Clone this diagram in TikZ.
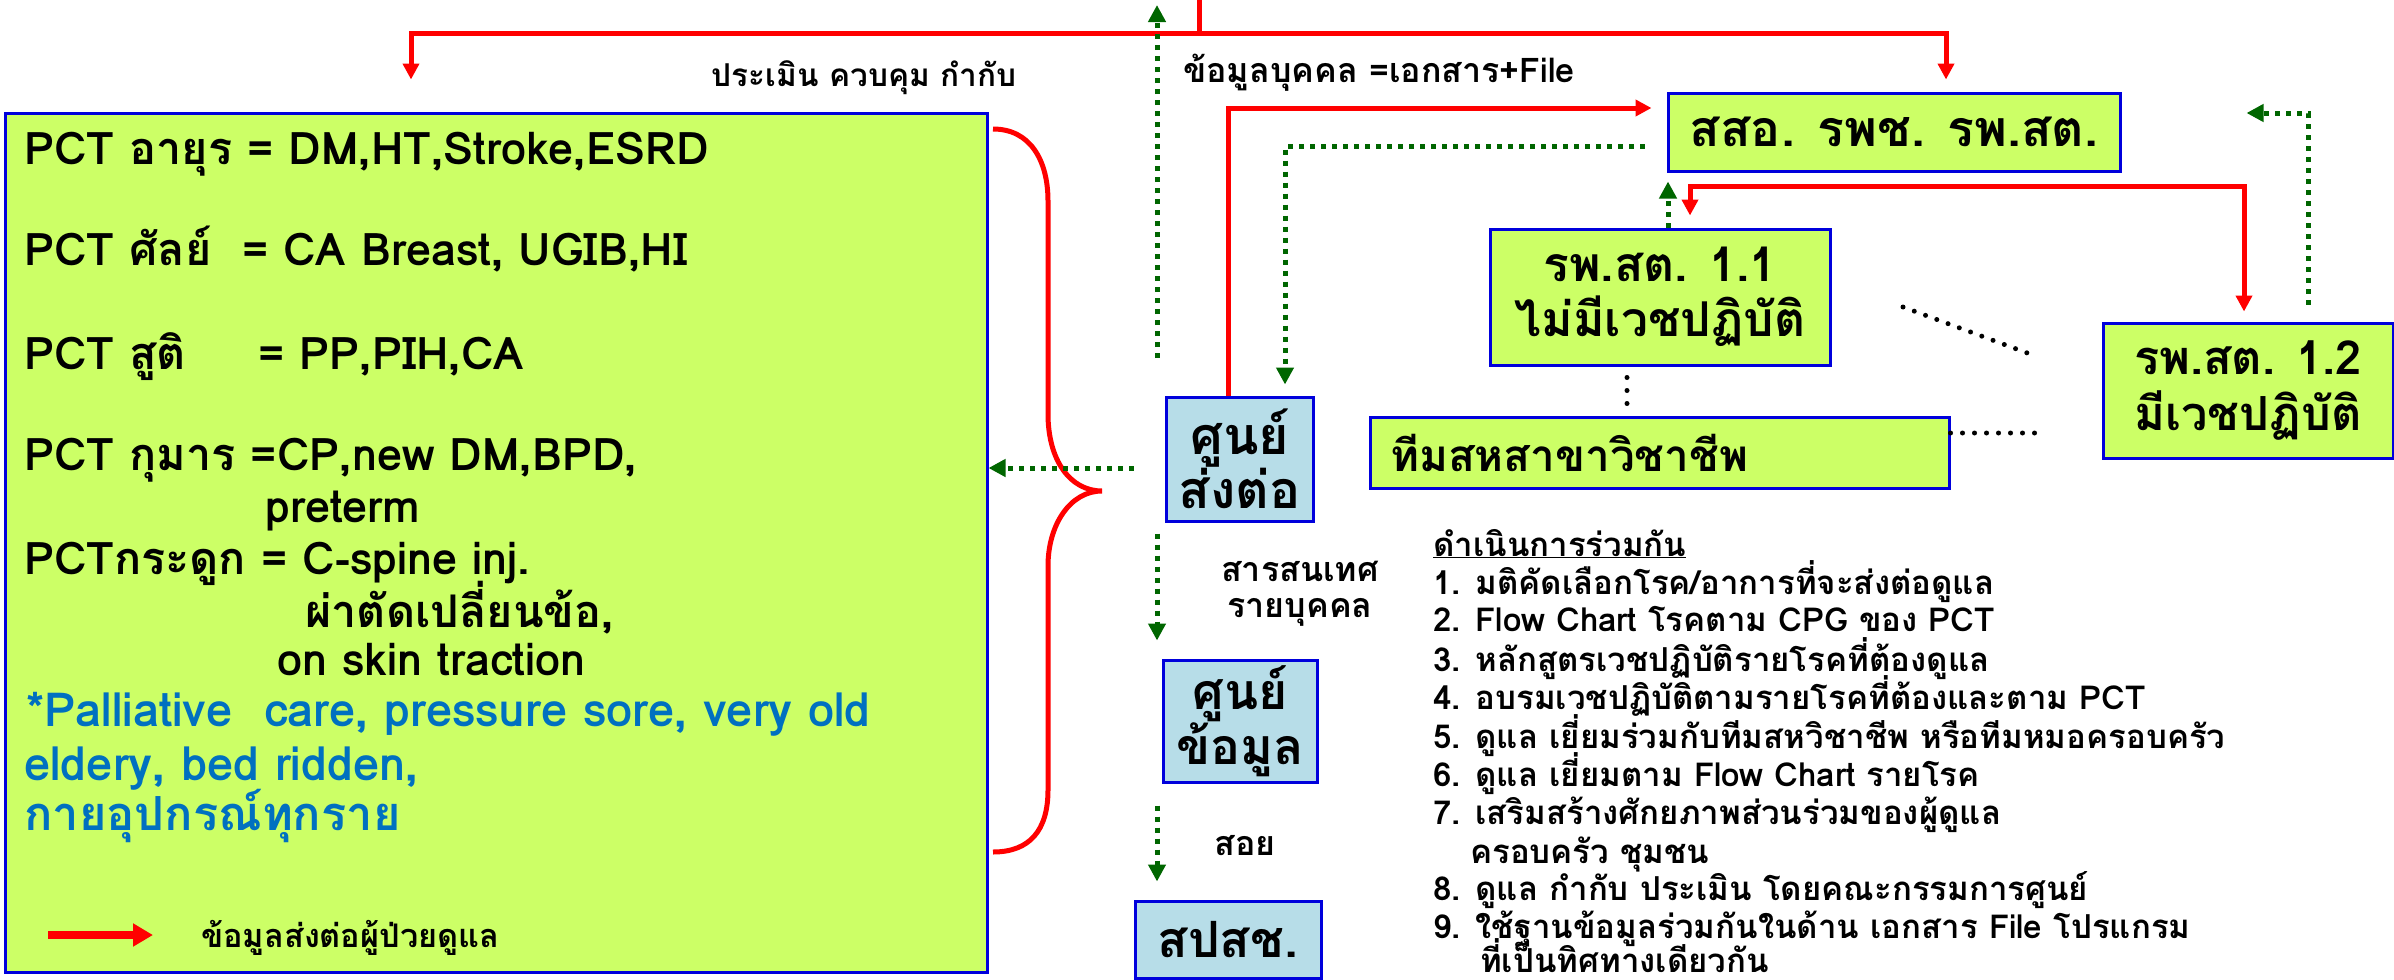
\documentclass[tikz,border=0pt]{standalone}
\usepackage{fontspec}
\setmainfont[Script=Thai]{Loma}
\usetikzlibrary{arrows.meta}
\definecolor{lime}{RGB}{204,255,102}
\definecolor{lblue}{RGB}{183,221,232}
\definecolor{bordblue}{RGB}{0,0,220}
\definecolor{dgreen}{RGB}{0,102,0}
\definecolor{txtblue}{RGB}{0,112,192}
\newcommand\fsz[1]{\fontsize{#1}{#1}\selectfont}
\tikzset{
  box/.style={draw=bordblue, line width=3pt, fill=lime, inner sep=0pt},
  bbox/.style={box, fill=lblue},
  redarr/.style={draw=red, line width=5pt, -{Triangle[length=16pt,width=16pt]}},
  reddbl/.style={draw=red, line width=5pt, {Triangle[length=16pt,width=16pt]}-{Triangle[length=16pt,width=16pt]}},
  grnarr/.style={draw=dgreen, line width=5pt, dash pattern=on 5pt off 6pt, -{Triangle[length=17pt,width=17pt]}},
  blkdots/.style={draw=black, line width=5pt, line cap=round, dash pattern=on 0pt off 12pt},
  tx/.style={inner sep=0pt, anchor=base west, font=\bfseries\fsz{45}},
  btx/.style={inner sep=0pt, anchor=base west, font=\bfseries\fsz{47}, text=txtblue},
  lab/.style={inner sep=0pt, anchor=base, font=\bfseries\fsz{34}},
  lst/.style={inner sep=0pt, anchor=base west, font=\bfseries\fsz{33}},
}
\begin{document}
\begin{tikzpicture}[x=1pt,y=-1pt]
\useasboundingbox (0,0) rectangle (2394,980);
% boxes
\node[box, minimum width=982pt, minimum height=859pt] (left) at (496,542.5) {};
\node[box, minimum width=452pt, minimum height=78pt, font=\bfseries\fsz{50}] (sso) at (1894,132) {สสอ. รพช. รพ.สต.};
\node[box, minimum width=340pt, minimum height=136pt, align=center, font=\bfseries\fontsize{48}{55}\selectfont] (r11) at (1660,297) {รพ.สต. 1.1\\ไม่มีเวชปฏิบัติ};
\node[box, minimum width=290pt, minimum height=135pt, align=center, font=\bfseries\fontsize{47}{56}\selectfont] (r12) at (2248,390.5) {รพ.สต. 1.2\\มีเวชปฏิบัติ};
\node[box, text width=539pt, inner xsep=20pt, minimum height=71pt, align=left, font=\bfseries\fsz{44}] (team) at (1659.5,452.5) {ทีมสหสาขาวิชาชีพ};
\node[bbox, minimum width=147pt, minimum height=124pt, align=center, font=\bfseries\fontsize{52}{50}\selectfont] (refer) at (1239.5,459) {ศูนย์\\ส่งต่อ};
\node[bbox, minimum width=154pt, minimum height=122pt, align=center, font=\bfseries\fontsize{50}{53}\selectfont] (data) at (1240,721) {ศูนย์\\ข้อมูล};
\node[bbox, minimum width=186pt, minimum height=77pt, font=\bfseries\fsz{50}] (nhso) at (1228,939.5) {สปสช.};
% left box text
\node[tx] (l1) at (24,164.6) {PCT อายุร = DM,HT,Stroke,ESRD};
\node[tx] (l2) at (24,265.6) {PCT ศัลย์\ \ = CA Breast, UGIB,HI};
\node[tx] (l3) at (24,369.6) {\makebox[234pt][l]{PCT สูติ}= PP,PIH,CA};
\node[tx] (l4) at (24,470.6) {PCT กุมาร =CP,new DM,BPD,};
\node[tx] (l5) at (265,522.6) {preterm};
\node[tx] (l6) at (24,574.6) {PCTกระดูก = C-spine inj.};
\node[tx] (l7) at (305,627.6) {ผ่าตัดเปลี่ยนข้อ,};
\node[tx] (l8) at (277,675.6) {on skin traction};
\node[btx] (l9) at (26,726) {*Palliative\ \ care, pressure sore, very old};
\node[btx] (l10) at (24,780) {eldery, bed ridden,};
\node[btx] (l11) at (24,830) {กายอุปกรณ์ทุกราย};
% legend
\coordinate (lga) at (48,935);
\coordinate (lgb) at (153,935);
\draw[draw=red, line width=8pt, -{Triangle[length=20pt,width=22pt]}] (lga) -- (lgb);
\node[lab, anchor=base west, font=\bfseries\fsz{32.5}] (lgt) at (201,947) {ข้อมูลส่งต่อผู้ป่วยดูแล};
% labels
\node[lab, font=\bfseries\fsz{31.5}] (hd) at (864,86.5) {ประเมิน ควบคุม กำกับ};
\node[lab, anchor=base west, font=\bfseries\fsz{34}] (pinfo) at (1183,82.5) {ข้อมูลบุคคล =เอกสาร+File};
\node[lab] (inf1) at (1300,581.5) {สารสนเทศ};
\node[lab] (inf2) at (1300,617.5) {รายบุคคล};
\node[lab] (soy) at (1245,855.5) {สอย};
% list
\node[lst] (h0) at (1433,556) {\underline{ดำเนินการร่วมกัน}};
\node[lst] (i1) at (1433,594) {1. มติคัดเลือกโรค/อาการที่จะส่งต่อดูแล};
\node[lst] (i2) at (1433,631) {2. Flow Chart โรคตาม CPG ของ PCT};
\node[lst] (i3) at (1433,671) {3. หลักสูตรเวชปฏิบัติรายโรคที่ต้องดูแล};
\node[lst] (i4) at (1433,709) {4. อบรมเวชปฏิบัติตามรายโรคที่ต้องและตาม PCT};
\node[lst] (i5) at (1433,748) {5. ดูแล เยี่ยมร่วมกับทีมสหวิชาชีพ หรือทีมหมอครอบครัว};
\node[lst] (i6) at (1433,786) {6. ดูแล เยี่ยมตาม Flow Chart รายโรค};
\node[lst] (i7) at (1433,824) {7. เสริมสร้างศักยภาพส่วนร่วมของผู้ดูแล};
\node[lst] (i7b) at (1470,863) {ครอบครัว ชุมชน};
\node[lst] (i8) at (1433,900) {8. ดูแล กำกับ ประเมิน โดยคณะกรรมการศูนย์};
\node[lst] (i9) at (1433,938) {9. ใช้ฐานข้อมูลร่วมกันในด้าน เอกสาร File โปรแกรม};
\node[lst] (i9b) at (1480,972) {ที่เป็นทิศทางเดียวกัน};
% brace
\draw[red, line width=5pt] (993,129) .. controls (1030,129) and (1048,160) .. (1048,201)
  -- (1048,414) .. controls (1048,460) and (1070,491) .. (1102,491)
  .. controls (1070,491) and (1048,525) .. (1048,566)
  -- (1048,790) .. controls (1048,830) and (1030,852) .. (993,852);
% red top connector
\coordinate (topin) at (1199,0);
\coordinate (topj) at (1199,33);
\draw[redarr] (topin) -- (topj) -| ([xshift=-85pt,yshift=32pt]left.north);
\draw[redarr] (topj) -| ([xshift=52pt,yshift=12pt]sso.north);
% green up arrow (left)
\coordinate (gupend) at (1157,358);
\coordinate (guptip) at (1157,5);
\draw[grnarr] (gupend) -- (guptip);
% red from refer to sso
\draw[redarr] ([xshift=-11.5pt]refer.north) |- ([xshift=-15pt,yshift=24pt]sso.west);
% green from sso to refer
\draw[grnarr] ([xshift=-22pt,yshift=-14pt]sso.west) -| ([xshift=45.5pt,yshift=11pt]refer.north);
% green from refer to left box
\draw[grnarr] ([xshift=-31pt,yshift=-9pt]refer.west) -- ([yshift=74.5pt]left.east);
% green down arrows
\draw[grnarr] ([xshift=-82.5pt,yshift=-11pt]refer.south) -- ([xshift=-83pt,yshift=18pt]data.north);
\draw[grnarr] ([xshift=-83pt,yshift=-22pt]data.south) -- ([xshift=-71pt,yshift=18pt]nhso.north);
% green r11 up to sso
\draw[grnarr] ([xshift=8pt]r11.north) -- ([xshift=-226pt,yshift=-9pt]sso.south);
% red double between r11 and r12
\coordinate (rbar) at (1967,186);
\draw[reddbl] ([xshift=30pt,yshift=12pt]r11.north) |- (rbar) -| ([xshift=-4pt,yshift=10pt]r12.north);
% green r12 up to sso
\draw[grnarr] ([xshift=60pt,yshift=17pt]r12.north) |- ([xshift=125pt,yshift=19pt]sso.east);
% black dotted lines
\coordinate (d1a) at (1903,307);
\coordinate (d1b) at (2030,354);
\draw[blkdots] (d1a) -- (d1b);
\coordinate (d2b) at (2044,433);
\draw[blkdots] ([yshift=19.5pt]team.east) -- (d2b);
\draw[blkdots, dash pattern=on 0pt off 13pt] ([xshift=-33pt,yshift=-11pt]r11.south) -- ([xshift=-32.5pt,yshift=11pt]team.north);
\end{tikzpicture}
\end{document}
